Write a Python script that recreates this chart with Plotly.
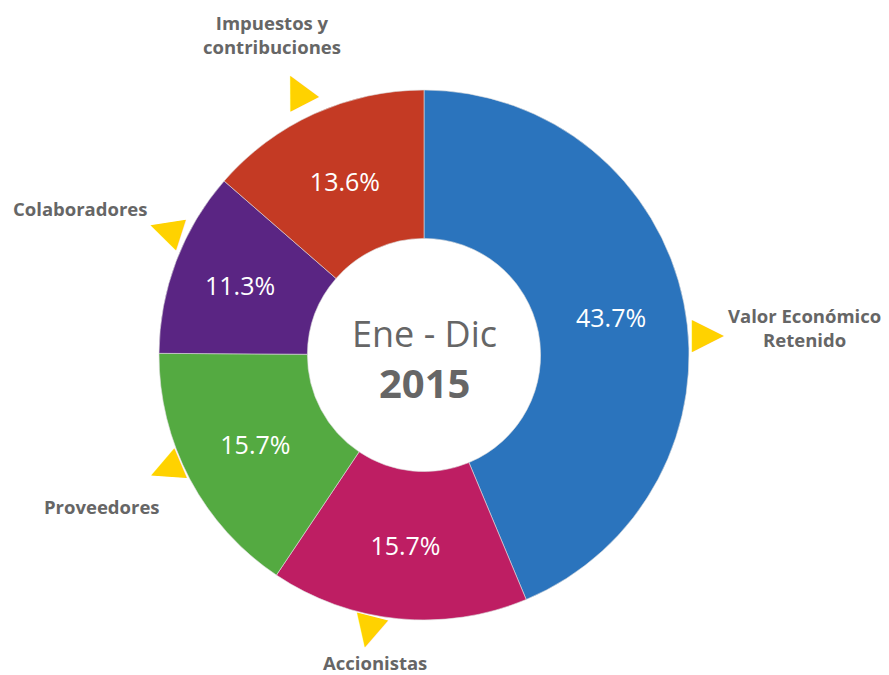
import plotly.graph_objects as go

# ---- data ----
categories = ["Valor Económico<br>Retenido", "Accionistas", "Proveedores", "Colaboradores", "Impuestos y<br>contribuciones"]
values = [43.7, 15.7, 15.7, 11.3, 13.6]
colors = ["#2B74BD", "#BE1E63", "#54AA41", "#5A2583", "#C43A24"]
center_line1 = "Ene - Dic"
center_line2 = "2015"

W, H = 889, 675
CX, CY, R = 424, 355, 265


def px(x):
    return x / W


def py(y):
    return 1 - y / H


fig = go.Figure()
fig.add_trace(go.Pie(
    labels=categories,
    values=values,
    sort=False,
    direction="clockwise",
    rotation=0,
    hole=0.44,
    marker=dict(colors=colors, line=dict(color="#DDDDDD", width=0.6)),
    texttemplate="%{value:.1f}%",
    textposition="inside",
    insidetextorientation="horizontal",
    textfont=dict(family="Open Sans", size=25, color="white"),
    hoverinfo="label+percent",
    showlegend=False,
    domain=dict(x=[px(CX - R), px(CX + R)], y=[py(CY + R), py(CY - R)]),
))

gray = "#666666"
label_font = dict(family="Open Sans", size=18.5, color=gray, weight="bold")

# category labels (x, y centre in px)
label_pos = [(804, 328), (375, 662), (102, 506), (80, 208), (272, 35)]
for name, (x, y) in zip(categories, label_pos):
    fig.add_annotation(x=px(x), y=py(y), xref="paper", yref="paper", text=name,
                       showarrow=False, font=label_font, align="center",
                       xanchor="center", yanchor="middle")

# yellow pointer triangles
tri_pos = [(708, 332, 0), (373, 633, 104), (168, 473, 157), (165, 234, -162), (294, 92, -117)]
for x, y, ang in tri_pos:
    fig.add_annotation(x=px(x), y=py(y), xref="paper", yref="paper", text="▶",
                       showarrow=False, textangle=ang,
                       font=dict(family="DejaVu Sans", size=42, color="#FFD200"),
                       xanchor="center", yanchor="middle")

# centre text
fig.add_annotation(x=px(CX), y=py(333), xref="paper", yref="paper", text=center_line1,
                   showarrow=False, font=dict(family="Open Sans", size=36, color=gray),
                   xanchor="center", yanchor="middle")
fig.add_annotation(x=px(CX), y=py(383), xref="paper", yref="paper", text=center_line2,
                   showarrow=False, font=dict(family="Open Sans", size=40, color=gray, weight="bold"),
                   xanchor="center", yanchor="middle")

fig.update_layout(
    width=W, height=H,
    margin=dict(l=0, r=0, t=0, b=0),
    paper_bgcolor="white",
    plot_bgcolor="white",
)

fig.write_html("out.html", config={"displayModeBar": False},
               post_script="document.body.style.margin='0';document.body.style.overflow='hidden';")
